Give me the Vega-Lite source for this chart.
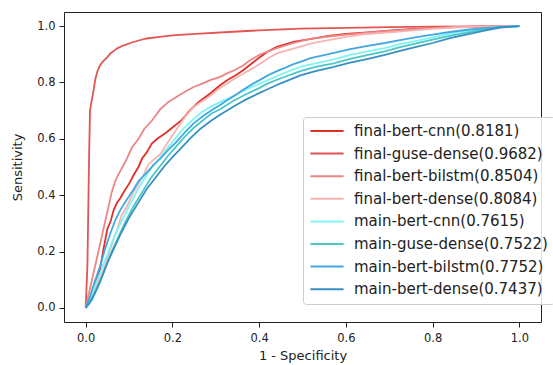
{
"$schema": "https://vega.github.io/schema/vega-lite/v6.json",
"width": 477, "height": 310,
"autosize": {"type": "none"},
"padding": {"left": 64, "top": 12, "right": 12, "bottom": 43},
"config": {"view": {"stroke": "#222", "strokeWidth": 1}, "font": "DejaVu Sans"},
"data": {"values": [
{"s":"final-bert-cnn(0.8181)","x":0,"y":0},{"s":"final-bert-cnn(0.8181)","x":0.01,"y":0.03},{"s":"final-bert-cnn(0.8181)","x":0.02,"y":0.07},{"s":"final-bert-cnn(0.8181)","x":0.033,"y":0.135},{"s":"final-bert-cnn(0.8181)","x":0.04,"y":0.2},{"s":"final-bert-cnn(0.8181)","x":0.045,"y":0.24},{"s":"final-bert-cnn(0.8181)","x":0.05,"y":0.28},{"s":"final-bert-cnn(0.8181)","x":0.058,"y":0.31},{"s":"final-bert-cnn(0.8181)","x":0.065,"y":0.35},{"s":"final-bert-cnn(0.8181)","x":0.072,"y":0.372},{"s":"final-bert-cnn(0.8181)","x":0.08,"y":0.39},{"s":"final-bert-cnn(0.8181)","x":0.091,"y":0.419},{"s":"final-bert-cnn(0.8181)","x":0.1,"y":0.44},{"s":"final-bert-cnn(0.8181)","x":0.11,"y":0.47},{"s":"final-bert-cnn(0.8181)","x":0.122,"y":0.501},{"s":"final-bert-cnn(0.8181)","x":0.13,"y":0.53},{"s":"final-bert-cnn(0.8181)","x":0.14,"y":0.55},{"s":"final-bert-cnn(0.8181)","x":0.153,"y":0.584},{"s":"final-bert-cnn(0.8181)","x":0.165,"y":0.6},{"s":"final-bert-cnn(0.8181)","x":0.183,"y":0.619},{"s":"final-bert-cnn(0.8181)","x":0.2,"y":0.64},{"s":"final-bert-cnn(0.8181)","x":0.222,"y":0.667},{"s":"final-bert-cnn(0.8181)","x":0.24,"y":0.7},{"s":"final-bert-cnn(0.8181)","x":0.26,"y":0.73},{"s":"final-bert-cnn(0.8181)","x":0.287,"y":0.761},{"s":"final-bert-cnn(0.8181)","x":0.31,"y":0.79},{"s":"final-bert-cnn(0.8181)","x":0.326,"y":0.808},{"s":"final-bert-cnn(0.8181)","x":0.345,"y":0.825},{"s":"final-bert-cnn(0.8181)","x":0.364,"y":0.844},{"s":"final-bert-cnn(0.8181)","x":0.385,"y":0.87},{"s":"final-bert-cnn(0.8181)","x":0.403,"y":0.891},{"s":"final-bert-cnn(0.8181)","x":0.42,"y":0.91},{"s":"final-bert-cnn(0.8181)","x":0.441,"y":0.926},{"s":"final-bert-cnn(0.8181)","x":0.479,"y":0.944},{"s":"final-bert-cnn(0.8181)","x":0.52,"y":0.955},{"s":"final-bert-cnn(0.8181)","x":0.56,"y":0.965},{"s":"final-bert-cnn(0.8181)","x":0.6,"y":0.972},{"s":"final-bert-cnn(0.8181)","x":0.65,"y":0.978},{"s":"final-bert-cnn(0.8181)","x":0.7,"y":0.984},{"s":"final-bert-cnn(0.8181)","x":0.75,"y":0.989},{"s":"final-bert-cnn(0.8181)","x":0.8,"y":0.993},{"s":"final-bert-cnn(0.8181)","x":0.85,"y":0.996},{"s":"final-bert-cnn(0.8181)","x":0.9,"y":0.998},{"s":"final-bert-cnn(0.8181)","x":1,"y":1},

{"s":"final-guse-dense(0.9682)","x":0,"y":0},{"s":"final-guse-dense(0.9682)","x":0.004,"y":0.15},{"s":"final-guse-dense(0.9682)","x":0.006,"y":0.35},{"s":"final-guse-dense(0.9682)","x":0.008,"y":0.55},{"s":"final-guse-dense(0.9682)","x":0.01,"y":0.7},{"s":"final-guse-dense(0.9682)","x":0.014,"y":0.737},{"s":"final-guse-dense(0.9682)","x":0.018,"y":0.77},{"s":"final-guse-dense(0.9682)","x":0.022,"y":0.81},{"s":"final-guse-dense(0.9682)","x":0.027,"y":0.84},{"s":"final-guse-dense(0.9682)","x":0.033,"y":0.86},{"s":"final-guse-dense(0.9682)","x":0.04,"y":0.875},{"s":"final-guse-dense(0.9682)","x":0.05,"y":0.89},{"s":"final-guse-dense(0.9682)","x":0.057,"y":0.903},{"s":"final-guse-dense(0.9682)","x":0.065,"y":0.912},{"s":"final-guse-dense(0.9682)","x":0.072,"y":0.92},{"s":"final-guse-dense(0.9682)","x":0.085,"y":0.93},{"s":"final-guse-dense(0.9682)","x":0.103,"y":0.94},{"s":"final-guse-dense(0.9682)","x":0.12,"y":0.948},{"s":"final-guse-dense(0.9682)","x":0.141,"y":0.956},{"s":"final-guse-dense(0.9682)","x":0.17,"y":0.962},{"s":"final-guse-dense(0.9682)","x":0.2,"y":0.967},{"s":"final-guse-dense(0.9682)","x":0.264,"y":0.973},{"s":"final-guse-dense(0.9682)","x":0.33,"y":0.979},{"s":"final-guse-dense(0.9682)","x":0.4,"y":0.985},{"s":"final-guse-dense(0.9682)","x":0.495,"y":0.991},{"s":"final-guse-dense(0.9682)","x":0.6,"y":0.994},{"s":"final-guse-dense(0.9682)","x":0.7,"y":0.996},{"s":"final-guse-dense(0.9682)","x":0.8,"y":0.998},{"s":"final-guse-dense(0.9682)","x":0.9,"y":0.999},{"s":"final-guse-dense(0.9682)","x":1,"y":1},

{"s":"final-bert-bilstm(0.8504)","x":0,"y":0},{"s":"final-bert-bilstm(0.8504)","x":0.06,"y":0.41},{"s":"final-bert-bilstm(0.8504)","x":0.068,"y":0.45},{"s":"final-bert-bilstm(0.8504)","x":0.076,"y":0.475},{"s":"final-bert-bilstm(0.8504)","x":0.085,"y":0.5},{"s":"final-bert-bilstm(0.8504)","x":0.095,"y":0.53},{"s":"final-bert-bilstm(0.8504)","x":0.107,"y":0.57},{"s":"final-bert-bilstm(0.8504)","x":0.122,"y":0.6},{"s":"final-bert-bilstm(0.8504)","x":0.135,"y":0.635},{"s":"final-bert-bilstm(0.8504)","x":0.153,"y":0.665},{"s":"final-bert-bilstm(0.8504)","x":0.172,"y":0.705},{"s":"final-bert-bilstm(0.8504)","x":0.19,"y":0.73},{"s":"final-bert-bilstm(0.8504)","x":0.21,"y":0.749},{"s":"final-bert-bilstm(0.8504)","x":0.23,"y":0.768},{"s":"final-bert-bilstm(0.8504)","x":0.249,"y":0.784},{"s":"final-bert-bilstm(0.8504)","x":0.27,"y":0.797},{"s":"final-bert-bilstm(0.8504)","x":0.287,"y":0.808},{"s":"final-bert-bilstm(0.8504)","x":0.31,"y":0.82},{"s":"final-bert-bilstm(0.8504)","x":0.326,"y":0.832},{"s":"final-bert-bilstm(0.8504)","x":0.345,"y":0.845},{"s":"final-bert-bilstm(0.8504)","x":0.364,"y":0.861},{"s":"final-bert-bilstm(0.8504)","x":0.38,"y":0.88},{"s":"final-bert-bilstm(0.8504)","x":0.403,"y":0.9},{"s":"final-bert-bilstm(0.8504)","x":0.441,"y":0.922},{"s":"final-bert-bilstm(0.8504)","x":0.479,"y":0.94},{"s":"final-bert-bilstm(0.8504)","x":0.518,"y":0.955},{"s":"final-bert-bilstm(0.8504)","x":0.56,"y":0.963},{"s":"final-bert-bilstm(0.8504)","x":0.6,"y":0.97},{"s":"final-bert-bilstm(0.8504)","x":0.65,"y":0.977},{"s":"final-bert-bilstm(0.8504)","x":0.7,"y":0.983},{"s":"final-bert-bilstm(0.8504)","x":0.75,"y":0.988},{"s":"final-bert-bilstm(0.8504)","x":0.8,"y":0.993},{"s":"final-bert-bilstm(0.8504)","x":0.85,"y":0.996},{"s":"final-bert-bilstm(0.8504)","x":0.9,"y":0.998},{"s":"final-bert-bilstm(0.8504)","x":1,"y":1},

{"s":"final-bert-dense(0.8084)","x":0,"y":0},{"s":"final-bert-dense(0.8084)","x":0.02,"y":0.06},{"s":"final-bert-dense(0.8084)","x":0.04,"y":0.13},{"s":"final-bert-dense(0.8084)","x":0.055,"y":0.2},{"s":"final-bert-dense(0.8084)","x":0.072,"y":0.277},{"s":"final-bert-dense(0.8084)","x":0.083,"y":0.33},{"s":"final-bert-dense(0.8084)","x":0.095,"y":0.36},{"s":"final-bert-dense(0.8084)","x":0.11,"y":0.41},{"s":"final-bert-dense(0.8084)","x":0.133,"y":0.47},{"s":"final-bert-dense(0.8084)","x":0.145,"y":0.51},{"s":"final-bert-dense(0.8084)","x":0.16,"y":0.53},{"s":"final-bert-dense(0.8084)","x":0.172,"y":0.545},{"s":"final-bert-dense(0.8084)","x":0.183,"y":0.572},{"s":"final-bert-dense(0.8084)","x":0.195,"y":0.6},{"s":"final-bert-dense(0.8084)","x":0.21,"y":0.635},{"s":"final-bert-dense(0.8084)","x":0.23,"y":0.68},{"s":"final-bert-dense(0.8084)","x":0.249,"y":0.712},{"s":"final-bert-dense(0.8084)","x":0.265,"y":0.73},{"s":"final-bert-dense(0.8084)","x":0.287,"y":0.752},{"s":"final-bert-dense(0.8084)","x":0.305,"y":0.775},{"s":"final-bert-dense(0.8084)","x":0.326,"y":0.796},{"s":"final-bert-dense(0.8084)","x":0.345,"y":0.815},{"s":"final-bert-dense(0.8084)","x":0.364,"y":0.832},{"s":"final-bert-dense(0.8084)","x":0.385,"y":0.85},{"s":"final-bert-dense(0.8084)","x":0.403,"y":0.867},{"s":"final-bert-dense(0.8084)","x":0.42,"y":0.885},{"s":"final-bert-dense(0.8084)","x":0.441,"y":0.903},{"s":"final-bert-dense(0.8084)","x":0.479,"y":0.92},{"s":"final-bert-dense(0.8084)","x":0.518,"y":0.938},{"s":"final-bert-dense(0.8084)","x":0.56,"y":0.95},{"s":"final-bert-dense(0.8084)","x":0.6,"y":0.962},{"s":"final-bert-dense(0.8084)","x":0.65,"y":0.972},{"s":"final-bert-dense(0.8084)","x":0.7,"y":0.978},{"s":"final-bert-dense(0.8084)","x":0.75,"y":0.984},{"s":"final-bert-dense(0.8084)","x":0.8,"y":0.99},{"s":"final-bert-dense(0.8084)","x":0.85,"y":0.995},{"s":"final-bert-dense(0.8084)","x":0.9,"y":0.998},{"s":"final-bert-dense(0.8084)","x":1,"y":1},

{"s":"main-bert-cnn(0.7615)","x":0,"y":0},{"s":"main-bert-cnn(0.7615)","x":0.01,"y":0.03},{"s":"main-bert-cnn(0.7615)","x":0.02,"y":0.07},{"s":"main-bert-cnn(0.7615)","x":0.035,"y":0.13},{"s":"main-bert-cnn(0.7615)","x":0.05,"y":0.19},{"s":"main-bert-cnn(0.7615)","x":0.065,"y":0.25},{"s":"main-bert-cnn(0.7615)","x":0.08,"y":0.3},{"s":"main-bert-cnn(0.7615)","x":0.1,"y":0.36},{"s":"main-bert-cnn(0.7615)","x":0.12,"y":0.42},{"s":"main-bert-cnn(0.7615)","x":0.14,"y":0.47},{"s":"main-bert-cnn(0.7615)","x":0.153,"y":0.5},{"s":"main-bert-cnn(0.7615)","x":0.17,"y":0.53},{"s":"main-bert-cnn(0.7615)","x":0.19,"y":0.57},{"s":"main-bert-cnn(0.7615)","x":0.206,"y":0.6},{"s":"main-bert-cnn(0.7615)","x":0.225,"y":0.635},{"s":"main-bert-cnn(0.7615)","x":0.245,"y":0.665},{"s":"main-bert-cnn(0.7615)","x":0.268,"y":0.695},{"s":"main-bert-cnn(0.7615)","x":0.29,"y":0.715},{"s":"main-bert-cnn(0.7615)","x":0.31,"y":0.73},{"s":"main-bert-cnn(0.7615)","x":0.341,"y":0.752},{"s":"main-bert-cnn(0.7615)","x":0.37,"y":0.775},{"s":"main-bert-cnn(0.7615)","x":0.4,"y":0.795},{"s":"main-bert-cnn(0.7615)","x":0.43,"y":0.815},{"s":"main-bert-cnn(0.7615)","x":0.46,"y":0.835},{"s":"main-bert-cnn(0.7615)","x":0.495,"y":0.855},{"s":"main-bert-cnn(0.7615)","x":0.53,"y":0.868},{"s":"main-bert-cnn(0.7615)","x":0.572,"y":0.882},{"s":"main-bert-cnn(0.7615)","x":0.61,"y":0.898},{"s":"main-bert-cnn(0.7615)","x":0.649,"y":0.91},{"s":"main-bert-cnn(0.7615)","x":0.69,"y":0.922},{"s":"main-bert-cnn(0.7615)","x":0.725,"y":0.936},{"s":"main-bert-cnn(0.7615)","x":0.76,"y":0.947},{"s":"main-bert-cnn(0.7615)","x":0.8,"y":0.96},{"s":"main-bert-cnn(0.7615)","x":0.84,"y":0.972},{"s":"main-bert-cnn(0.7615)","x":0.88,"y":0.982},{"s":"main-bert-cnn(0.7615)","x":0.92,"y":0.99},{"s":"main-bert-cnn(0.7615)","x":0.956,"y":0.996},{"s":"main-bert-cnn(0.7615)","x":1,"y":1},

{"s":"main-guse-dense(0.7522)","x":0,"y":0},{"s":"main-guse-dense(0.7522)","x":0.015,"y":0.03},{"s":"main-guse-dense(0.7522)","x":0.03,"y":0.08},{"s":"main-guse-dense(0.7522)","x":0.045,"y":0.14},{"s":"main-guse-dense(0.7522)","x":0.06,"y":0.2},{"s":"main-guse-dense(0.7522)","x":0.075,"y":0.25},{"s":"main-guse-dense(0.7522)","x":0.09,"y":0.3},{"s":"main-guse-dense(0.7522)","x":0.11,"y":0.36},{"s":"main-guse-dense(0.7522)","x":0.13,"y":0.41},{"s":"main-guse-dense(0.7522)","x":0.15,"y":0.46},{"s":"main-guse-dense(0.7522)","x":0.17,"y":0.5},{"s":"main-guse-dense(0.7522)","x":0.19,"y":0.54},{"s":"main-guse-dense(0.7522)","x":0.21,"y":0.575},{"s":"main-guse-dense(0.7522)","x":0.23,"y":0.61},{"s":"main-guse-dense(0.7522)","x":0.25,"y":0.64},{"s":"main-guse-dense(0.7522)","x":0.27,"y":0.665},{"s":"main-guse-dense(0.7522)","x":0.29,"y":0.69},{"s":"main-guse-dense(0.7522)","x":0.31,"y":0.705},{"s":"main-guse-dense(0.7522)","x":0.341,"y":0.735},{"s":"main-guse-dense(0.7522)","x":0.37,"y":0.758},{"s":"main-guse-dense(0.7522)","x":0.4,"y":0.78},{"s":"main-guse-dense(0.7522)","x":0.418,"y":0.795},{"s":"main-guse-dense(0.7522)","x":0.45,"y":0.815},{"s":"main-guse-dense(0.7522)","x":0.495,"y":0.84},{"s":"main-guse-dense(0.7522)","x":0.53,"y":0.855},{"s":"main-guse-dense(0.7522)","x":0.572,"y":0.868},{"s":"main-guse-dense(0.7522)","x":0.61,"y":0.884},{"s":"main-guse-dense(0.7522)","x":0.649,"y":0.897},{"s":"main-guse-dense(0.7522)","x":0.69,"y":0.91},{"s":"main-guse-dense(0.7522)","x":0.725,"y":0.925},{"s":"main-guse-dense(0.7522)","x":0.76,"y":0.938},{"s":"main-guse-dense(0.7522)","x":0.8,"y":0.952},{"s":"main-guse-dense(0.7522)","x":0.84,"y":0.965},{"s":"main-guse-dense(0.7522)","x":0.88,"y":0.977},{"s":"main-guse-dense(0.7522)","x":0.92,"y":0.988},{"s":"main-guse-dense(0.7522)","x":0.956,"y":0.996},{"s":"main-guse-dense(0.7522)","x":1,"y":1},

{"s":"main-bert-bilstm(0.7752)","x":0,"y":0},{"s":"main-bert-bilstm(0.7752)","x":0.01,"y":0.04},{"s":"main-bert-bilstm(0.7752)","x":0.02,"y":0.09},{"s":"main-bert-bilstm(0.7752)","x":0.033,"y":0.147},{"s":"main-bert-bilstm(0.7752)","x":0.045,"y":0.21},{"s":"main-bert-bilstm(0.7752)","x":0.057,"y":0.265},{"s":"main-bert-bilstm(0.7752)","x":0.068,"y":0.31},{"s":"main-bert-bilstm(0.7752)","x":0.08,"y":0.348},{"s":"main-bert-bilstm(0.7752)","x":0.095,"y":0.385},{"s":"main-bert-bilstm(0.7752)","x":0.11,"y":0.419},{"s":"main-bert-bilstm(0.7752)","x":0.122,"y":0.45},{"s":"main-bert-bilstm(0.7752)","x":0.141,"y":0.48},{"s":"main-bert-bilstm(0.7752)","x":0.155,"y":0.505},{"s":"main-bert-bilstm(0.7752)","x":0.172,"y":0.53},{"s":"main-bert-bilstm(0.7752)","x":0.19,"y":0.56},{"s":"main-bert-bilstm(0.7752)","x":0.21,"y":0.59},{"s":"main-bert-bilstm(0.7752)","x":0.23,"y":0.625},{"s":"main-bert-bilstm(0.7752)","x":0.249,"y":0.655},{"s":"main-bert-bilstm(0.7752)","x":0.27,"y":0.68},{"s":"main-bert-bilstm(0.7752)","x":0.291,"y":0.702},{"s":"main-bert-bilstm(0.7752)","x":0.31,"y":0.72},{"s":"main-bert-bilstm(0.7752)","x":0.326,"y":0.737},{"s":"main-bert-bilstm(0.7752)","x":0.345,"y":0.755},{"s":"main-bert-bilstm(0.7752)","x":0.364,"y":0.775},{"s":"main-bert-bilstm(0.7752)","x":0.385,"y":0.795},{"s":"main-bert-bilstm(0.7752)","x":0.403,"y":0.81},{"s":"main-bert-bilstm(0.7752)","x":0.42,"y":0.825},{"s":"main-bert-bilstm(0.7752)","x":0.441,"y":0.84},{"s":"main-bert-bilstm(0.7752)","x":0.46,"y":0.852},{"s":"main-bert-bilstm(0.7752)","x":0.479,"y":0.865},{"s":"main-bert-bilstm(0.7752)","x":0.5,"y":0.876},{"s":"main-bert-bilstm(0.7752)","x":0.518,"y":0.886},{"s":"main-bert-bilstm(0.7752)","x":0.55,"y":0.897},{"s":"main-bert-bilstm(0.7752)","x":0.58,"y":0.908},{"s":"main-bert-bilstm(0.7752)","x":0.61,"y":0.918},{"s":"main-bert-bilstm(0.7752)","x":0.65,"y":0.93},{"s":"main-bert-bilstm(0.7752)","x":0.69,"y":0.94},{"s":"main-bert-bilstm(0.7752)","x":0.725,"y":0.95},{"s":"main-bert-bilstm(0.7752)","x":0.76,"y":0.96},{"s":"main-bert-bilstm(0.7752)","x":0.8,"y":0.97},{"s":"main-bert-bilstm(0.7752)","x":0.84,"y":0.979},{"s":"main-bert-bilstm(0.7752)","x":0.88,"y":0.987},{"s":"main-bert-bilstm(0.7752)","x":0.92,"y":0.993},{"s":"main-bert-bilstm(0.7752)","x":0.956,"y":0.997},{"s":"main-bert-bilstm(0.7752)","x":1,"y":1},

{"s":"main-bert-dense(0.7437)","x":0,"y":0},{"s":"main-bert-dense(0.7437)","x":0.01,"y":0.02},{"s":"main-bert-dense(0.7437)","x":0.02,"y":0.05},{"s":"main-bert-dense(0.7437)","x":0.035,"y":0.1},{"s":"main-bert-dense(0.7437)","x":0.05,"y":0.16},{"s":"main-bert-dense(0.7437)","x":0.065,"y":0.21},{"s":"main-bert-dense(0.7437)","x":0.08,"y":0.26},{"s":"main-bert-dense(0.7437)","x":0.1,"y":0.32},{"s":"main-bert-dense(0.7437)","x":0.12,"y":0.37},{"s":"main-bert-dense(0.7437)","x":0.14,"y":0.42},{"s":"main-bert-dense(0.7437)","x":0.16,"y":0.46},{"s":"main-bert-dense(0.7437)","x":0.18,"y":0.5},{"s":"main-bert-dense(0.7437)","x":0.2,"y":0.535},{"s":"main-bert-dense(0.7437)","x":0.219,"y":0.565},{"s":"main-bert-dense(0.7437)","x":0.24,"y":0.6},{"s":"main-bert-dense(0.7437)","x":0.264,"y":0.635},{"s":"main-bert-dense(0.7437)","x":0.29,"y":0.665},{"s":"main-bert-dense(0.7437)","x":0.31,"y":0.685},{"s":"main-bert-dense(0.7437)","x":0.341,"y":0.715},{"s":"main-bert-dense(0.7437)","x":0.37,"y":0.74},{"s":"main-bert-dense(0.7437)","x":0.4,"y":0.762},{"s":"main-bert-dense(0.7437)","x":0.418,"y":0.775},{"s":"main-bert-dense(0.7437)","x":0.45,"y":0.797},{"s":"main-bert-dense(0.7437)","x":0.495,"y":0.825},{"s":"main-bert-dense(0.7437)","x":0.53,"y":0.84},{"s":"main-bert-dense(0.7437)","x":0.572,"y":0.855},{"s":"main-bert-dense(0.7437)","x":0.61,"y":0.87},{"s":"main-bert-dense(0.7437)","x":0.649,"y":0.883},{"s":"main-bert-dense(0.7437)","x":0.69,"y":0.898},{"s":"main-bert-dense(0.7437)","x":0.725,"y":0.912},{"s":"main-bert-dense(0.7437)","x":0.76,"y":0.925},{"s":"main-bert-dense(0.7437)","x":0.8,"y":0.94},{"s":"main-bert-dense(0.7437)","x":0.84,"y":0.957},{"s":"main-bert-dense(0.7437)","x":0.88,"y":0.971},{"s":"main-bert-dense(0.7437)","x":0.92,"y":0.984},{"s":"main-bert-dense(0.7437)","x":0.956,"y":0.995},{"s":"main-bert-dense(0.7437)","x":1,"y":1}
]},
"mark": {"type": "line", "strokeWidth": 1.8, "clip": true},
"encoding": {
  "x": {"field": "x", "type": "quantitative", "scale": {"domain": [-0.05, 1.05], "nice": false, "zero": false},
        "axis": {"values": [0, 0.2, 0.4, 0.6, 0.8, 1], "format": ".1f", "title": "1 - Specificity", "grid": false, "domain": false,
                 "tickColor": "#222", "tickSize": 5, "labelFontSize": 11.5, "labelColor": "#222", "labelPadding": 5,
                 "titleFontSize": 13, "titleFontWeight": "normal", "titleColor": "#222", "titlePadding": 6}},
  "y": {"field": "y", "type": "quantitative", "scale": {"domain": [-0.05, 1.05], "nice": false, "zero": false},
        "axis": {"values": [0, 0.2, 0.4, 0.6, 0.8, 1], "format": ".1f", "title": "Sensitivity", "grid": false, "domain": false,
                 "tickColor": "#222", "tickSize": 5, "labelFontSize": 11.5, "labelColor": "#222", "labelPadding": 4,
                 "titleFontSize": 13, "titleFontWeight": "normal", "titleColor": "#222", "titlePadding": 12}},
  "color": {"field": "s", "type": "nominal",
    "scale": {"domain": ["final-bert-cnn(0.8181)", "final-guse-dense(0.9682)", "final-bert-bilstm(0.8504)", "final-bert-dense(0.8084)", "main-bert-cnn(0.7615)", "main-guse-dense(0.7522)", "main-bert-bilstm(0.7752)", "main-bert-dense(0.7437)"],
              "range": ["#e0302a", "#e35552", "#ee8585", "#f5b5b5", "#80f4f4", "#4cc6c6", "#42a8e2", "#3890c2"]},
    "legend": {"title": null, "orient": "none", "legendX": 239, "legendY": 105, "symbolType": "stroke", "symbolSize": 1100,
               "symbolStrokeWidth": 2, "clipHeight": 16, "rowPadding": 6.6, "labelFontSize": 15, "labelColor": "#222",
               "labelOffset": 9, "padding": 6, "strokeColor": "#ccc", "fillColor": "rgba(255,255,255,0.85)", "cornerRadius": 3, "labelLimit": 400}}
}
}
